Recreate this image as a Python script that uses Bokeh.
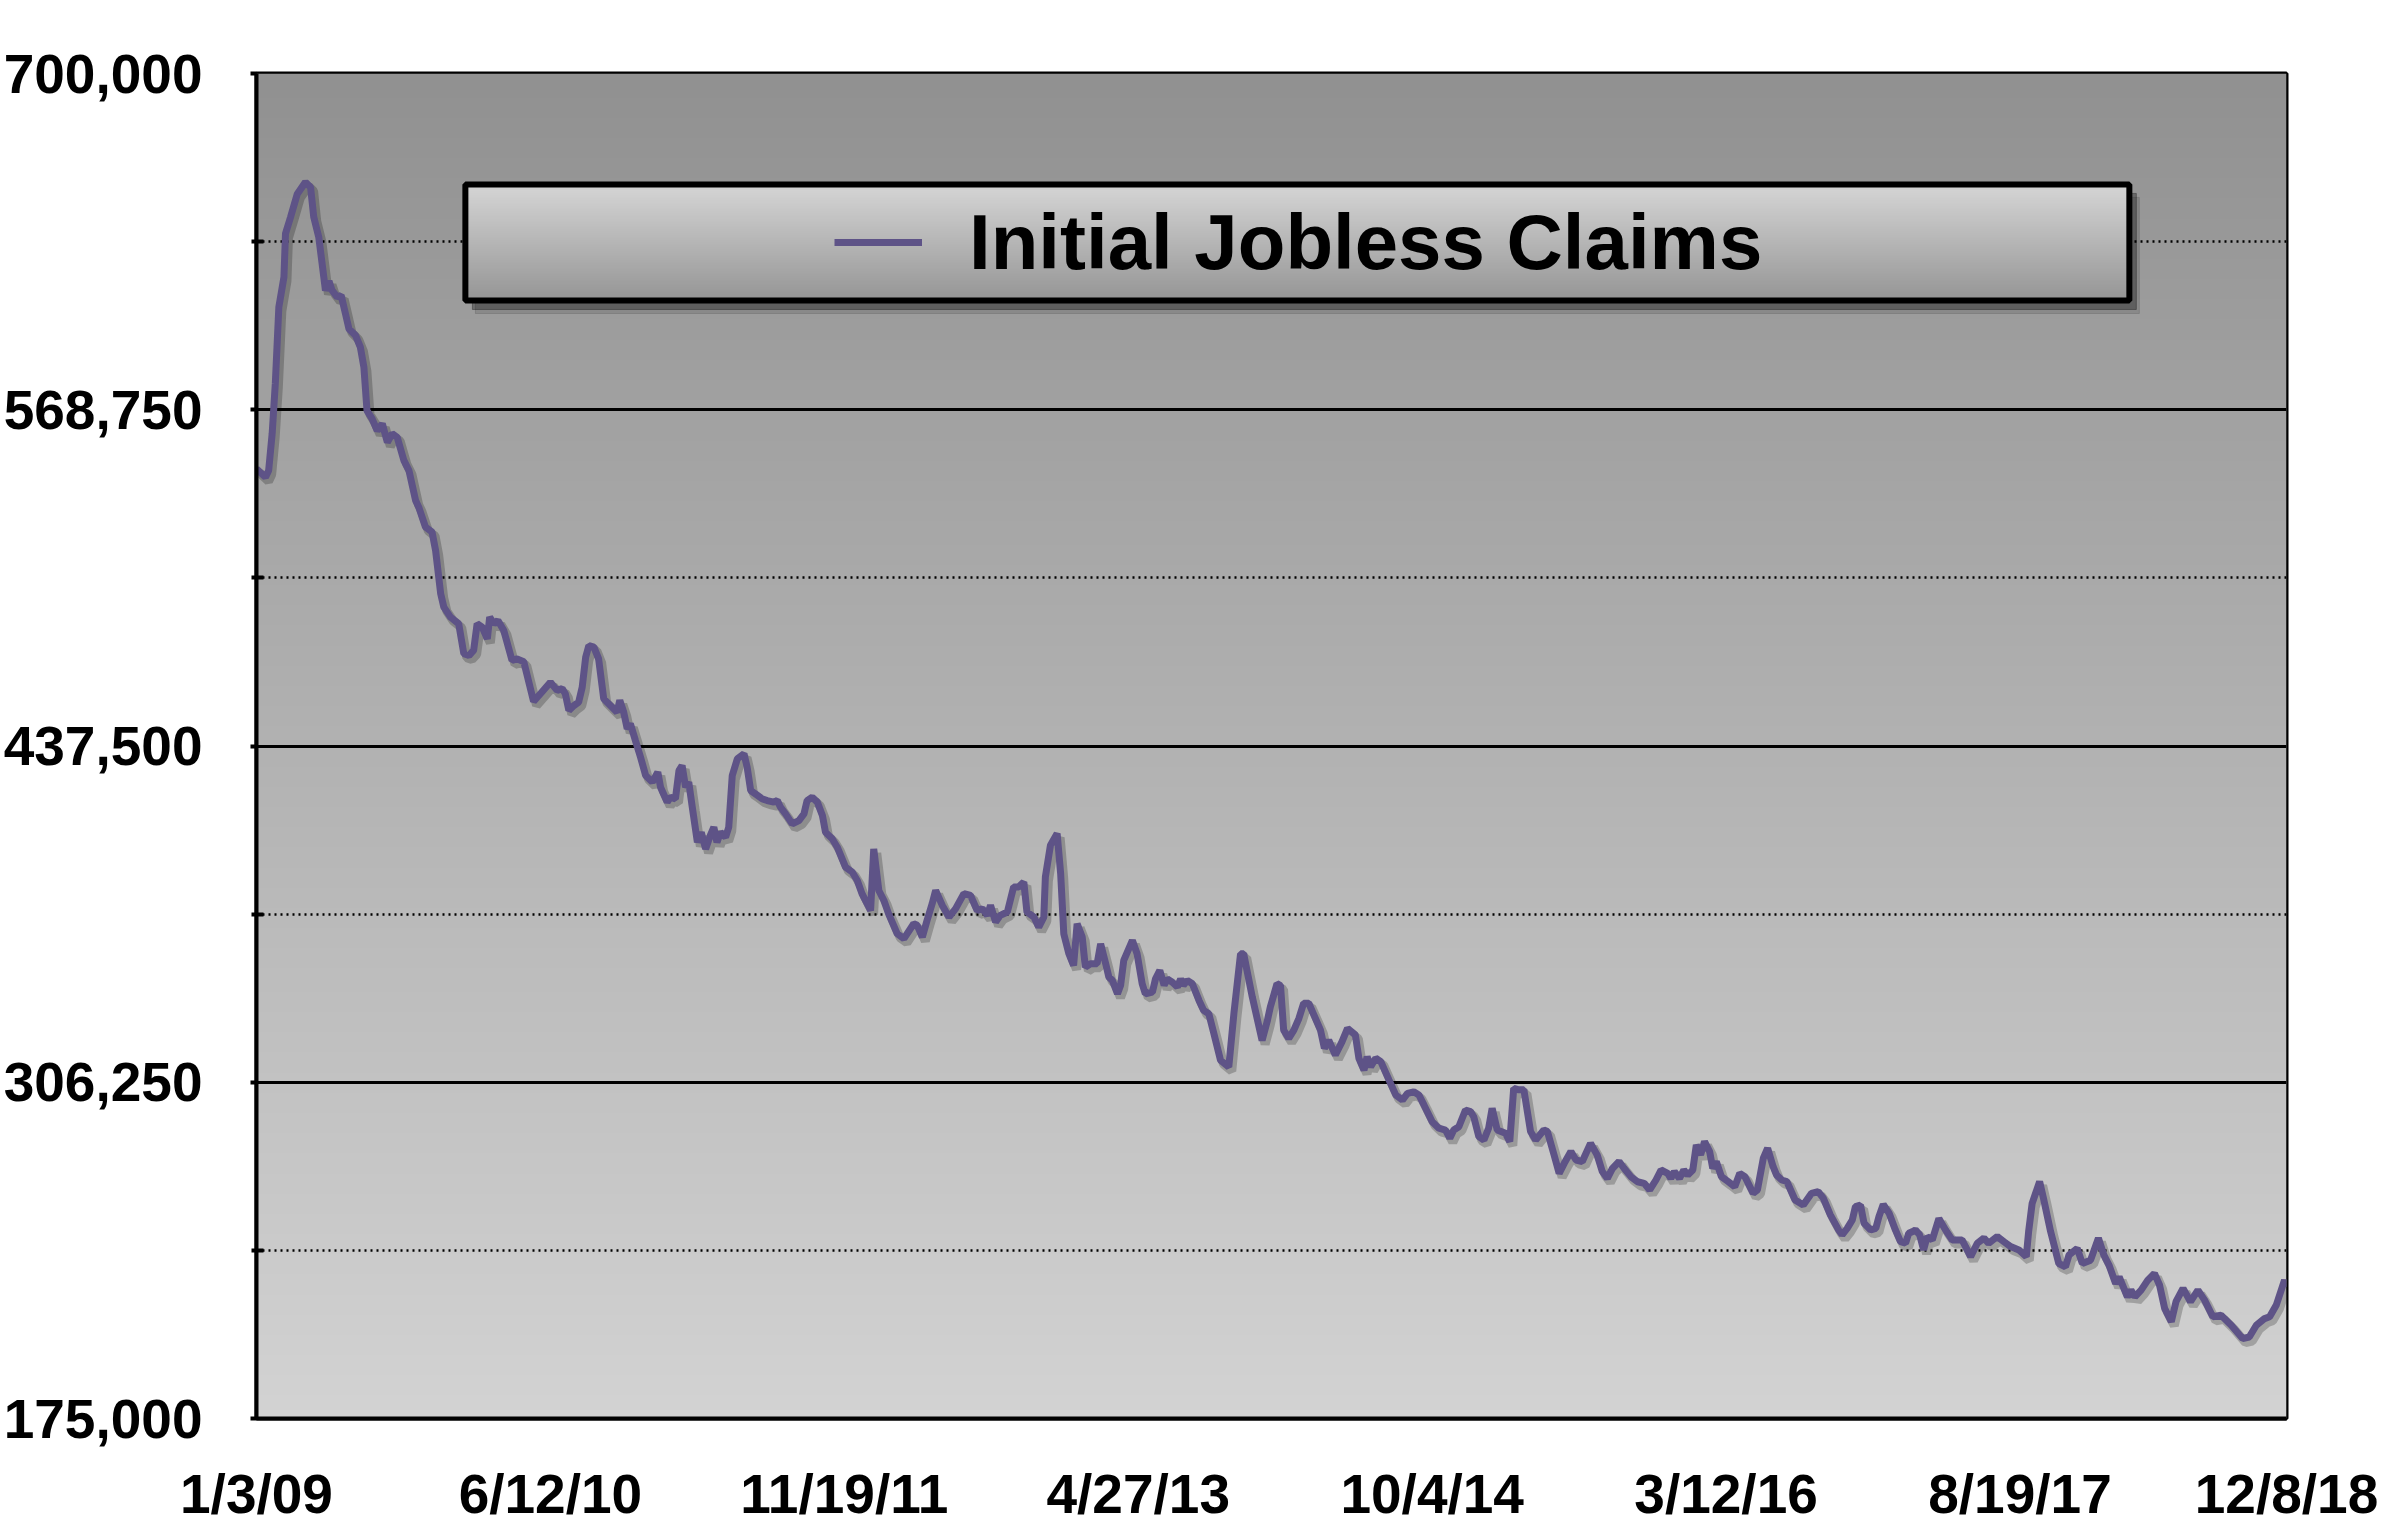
import numpy as np
from bokeh.plotting import figure
from bokeh.models import (Range1d, FixedTicker, NumeralTickFormatter, Legend,
                          LegendItem, BoxAnnotation)
from bokeh.embed import file_html
from bokeh.resources import INLINE

# ---------------- data ----------------
series_name = "Initial Jobless Claims"

# weeks since 1/3/09
weeks = [0, 2.3, 3.1, 4.0, 4.8, 5.7, 7.0, 7.4, 8.7, 10.4, 12.5, 13.8, 14.6, 15.9, 17.6, 18.5, 19.3,
         20.6, 21.6, 22.7, 23.6, 25.3, 26.5, 27.4, 28.2, 29.5, 30.8, 32.1, 33.4, 34.6, 35.9, 37.6,
         38.9, 40.6, 41.4, 43.1, 44.8, 45.7, 47.0, 47.8, 49.5, 51.6, 52.9, 54.2, 55.4, 56.3, 57.6,
         58.9, 59.5, 60.6, 61.6, 63.1, 65.2, 66.5, 68.2, 70.7, 72.5, 75.0, 76.7, 78.0, 78.8, 79.7,
         81.0, 82.2, 83.1, 84.0, 84.8, 86.1, 87.3, 88.6, 90.3, 92.0, 92.7, 93.7, 94.6, 95.4, 96.7,
         98.0, 99.3, 101.0, 102.4, 103.1, 104.8, 105.6, 106.9, 107.8, 108.6, 109.5, 110.3, 111.2,
         112.5, 113.5, 114.6, 115.8, 116.7, 117.5, 118.4, 119.7, 120.5, 121.4, 122.7, 124.4, 125.2,
         126.1, 127.3, 129.0, 130.3, 132.0, 132.9, 133.7, 135.0, 136.7, 138.4, 139.7, 140.5, 141.8,
         143.1, 144.4, 145.2, 146.9, 148.2, 150.3, 152.0, 153.3, 154.5, 156.7, 157.5, 158.8, 160.1,
         161.3, 162.6, 163.5, 165.2, 167.7, 168.6, 169.9, 171.1, 172.4, 173.3, 175.0, 176.7, 178.4,
         180.5, 182.2, 183.9, 185.2, 186.5, 187.3, 188.6, 189.8, 191.6, 193.2, 194.5, 195.8, 196.6,
         198.4, 199.6, 200.9, 201.3, 202.6, 204.3, 205.2, 206.0, 207.3, 208.5, 209.4, 210.7, 211.5,
         212.8, 214.5, 215.4, 216.7, 217.5, 218.4, 219.7, 220.5, 221.3, 223.5, 224.7, 226.0, 226.8,
         228.6, 229.4, 230.5, 231.6, 232.4, 233.7, 235.0, 235.8, 236.5, 237.5, 238.8, 240.5, 241.7,
         243.0, 244.3, 246.0, 248.1, 249.4, 251.1, 251.9, 254.1, 256.6, 257.9, 258.7, 260.4, 261.3,
         262.1, 263.4, 264.7, 266.0, 267.2, 268.5, 270.2, 271.5, 272.5, 273.6, 275.3, 277.0, 278.4,
         280.4, 281.3, 282.6, 283.4, 284.3, 285.6, 286.9, 289.0, 290.7, 292.4, 293.7, 295.3, 296.6,
         297.9, 300.0, 301.7, 303.4, 304.5, 305.5, 306.8, 308.5, 309.8, 310.6, 311.9, 313.2, 314.4,
         315.3, 316.6, 318.7, 319.8, 320.8, 322.1, 323.4, 325.1, 326.4, 328.5, 329.4, 331.1, 332.4,
         333.7, 335.4, 336.7, 338.3, 340.4, 342.1, 343.4, 344.7, 346.0, 347.7, 349.0, 350.7, 352.4,
         354.1, 355.5, 357.1, 358.4, 360.1, 360.9, 361.8, 363.1, 364.2, 365.2, 366.5, 367.4, 368.5,
         369.5, 370.8, 371.6, 372.5, 373.8, 375.5, 377.2, 378.5, 379.8, 381.9, 383.0, 384.5, 385.6,
         387.0, 387.9, 389.2, 390.5, 392.6, 394.7, 396.8, 398.5, 399.8, 401.6, 403.7, 404.6, 405.9,
         407.2, 408.0, 409.3, 410.2, 411.9, 413.2, 414.0, 415.1, 416.6, 418.2, 419.5, 420.8, 421.6,
         422.5, 423.3, 424.4, 425.4, 426.3, 427.6, 429.3, 431.0, 432.7, 435.2, 436.1, 437.4, 439.1,
         440.8, 442.0, 444.2, 445.9, 447.6, 449.7, 451.6, 452.2, 453.1, 455.0, 456.0, 457.8, 459.9,
         461.6, 462.5, 464.6, 465.9, 468.0, 470.0, 471.4, 472.7, 474.4, 475.3, 477.4, 478.3, 479.3,
         480.9, 482.6, 484.3, 485.6, 486.9, 488.6, 489.8, 491.6, 493.5, 495.4, 497.1, 499.2, 501.3,
         503.9, 506.8, 508.5, 510.3, 512.4, 513.7, 515.4, 517.5, 518.0]

claims = [545700, 542400, 545000, 559500, 579000, 608800, 620500, 637500, 644000, 653000, 657600,
          655600, 644000, 636000, 615300, 619000, 615300, 612700, 613400, 606200, 600300, 597700,
          593200, 585400, 568400, 565200, 560600, 563300, 556000, 559400, 558000, 549000, 545000,
          533300, 530700, 523000, 521000, 513800, 496900, 491700, 487800, 485200, 473500, 472800,
          474800, 485200, 483900, 479300, 487800, 485200, 486500, 482600, 470900, 471500, 470400,
          454900, 458000, 462400, 459200, 459900, 457900, 451400, 453300, 454600, 460400, 472200,
          476700, 476100, 471500, 455900, 453300, 450700, 455300, 450700, 444200, 446200, 439600,
          433100, 426000, 423400, 427300, 421400, 415600, 417500, 416900, 427900, 429900, 421400,
          423400, 413600, 399900, 403800, 397300, 402600, 405800, 399900, 403800, 401900, 405800,
          426000, 432500, 434500, 429200, 420100, 418800, 416900, 416200, 415600, 416200, 413600,
          411000, 407100, 408400, 411000, 416200, 417500, 415600, 410400, 403800, 401300, 398000,
          390200, 388300, 385000, 379900, 373300, 397300, 381100, 377200, 372000, 367400, 364200,
          362300, 368100, 367500, 362900, 369400, 375900, 381100, 375300, 370700, 374000, 379900,
          379200, 373300, 374000, 371400, 375300, 368800, 371400, 372700, 382500, 382500, 384400,
          372700, 370700, 366800, 370700, 386400, 398800, 403300, 387700, 364200, 356400, 351800,
          368100, 362900, 351200, 352500, 352500, 360300, 352500, 347300, 346000, 340800, 344100,
          353800, 361600, 356400, 344700, 340800, 341400, 346600, 349900, 344100, 346600, 345300,
          343400, 346600, 344100, 346000, 344700, 338200, 334300, 333000, 325200, 314800, 312200,
          333000, 356400, 356400, 339500, 322600, 330000, 335600, 344700, 344000, 326600, 323400,
          326600, 331200, 337100, 337100, 331200, 326600, 319500, 322700, 316900, 322100, 327300,
          324700, 315600, 311000, 316200, 312300, 315600, 314300, 307100, 301300, 299300, 301900,
          302500, 301300, 297400, 290800, 288300, 287600, 284400, 287600, 288900, 295400, 294800,
          292800, 285000, 283700, 288300, 296100, 287600, 286300, 283100, 303900, 303300, 303300,
          287000, 283700, 287600, 287000, 277900, 270700, 274600, 279200, 275900, 275300, 282400,
          277900, 271400, 268700, 272600, 275300, 272600, 269400, 267400, 266800, 264200, 268100,
          272000, 270700, 268700, 271400, 268700, 272000, 270000, 272000, 281800, 277900, 283100,
          279200, 272600, 275300, 269400, 267500, 265500, 270700, 269400, 262900, 264200, 276600,
          280500, 273300, 270000, 268100, 267500, 260300, 258300, 262900, 263600, 261000, 254500,
          248600, 246700, 249200, 252500, 257700, 258300, 251200, 248600, 249200, 253800, 258600,
          255100, 248600, 244000, 243400, 247300, 247900, 248600, 246700, 240800, 246000, 244700,
          253100, 248600, 244700, 244700, 242100, 238200, 243400, 245400, 243400, 246000, 244000,
          242100, 240800, 238200, 248000, 259000, 267500, 260900, 248000, 235500, 234200, 238800,
          241400, 235500, 236800, 245400, 238800, 234900, 227700, 230300, 222500, 225100, 222500,
          225100, 229000, 231600, 227100, 218000, 212800, 220600, 225800, 220600, 225100, 221200,
          214700, 215300, 211400, 206200, 206800, 211400, 214000, 214700, 219300, 229000, 226400]

tick_weeks = [0, 75, 150, 225, 300, 375, 450, 518]
tick_labels = ["1/3/09", "6/12/10", "11/19/11", "4/27/13", "10/4/14", "3/12/16", "8/19/17", "12/8/18"]
y_major = [175000, 306250, 437500, 568750, 700000]
y_minor = [240625, 371875, 503125, 634375]

# ---------------- layout / style constants ----------------
X0, X1 = 0, 518
Y0, Y1 = 175000, 700000
FRAME_W, FRAME_H = 2030, 1345
FONT = "Liberation Sans"
LINE_COLOR = "#5e5387"
px_x = (X1 - X0) / FRAME_W
px_y = (Y1 - Y0) / FRAME_H

p = figure(frame_width=FRAME_W, frame_height=FRAME_H,
           x_range=Range1d(X0, X1), y_range=Range1d(Y0, Y1),
           output_backend="svg", toolbar_location=None,
           min_border_left=256, min_border_top=73, min_border_right=98, min_border_bottom=10,
           border_fill_color="white", background_fill_color="#b0b0b0")

# shifted ranges used to draw drop shadows a few pixels down-right
def shifted(name, dx, dy):
    p.extra_x_ranges[name] = Range1d(X0 - dx * px_x, X1 - dx * px_x)
    p.extra_y_ranges[name] = Range1d(Y0 + dy * px_y, Y1 + dy * px_y)

shifted("lshadow", 3, 4)
shifted("bshadow", 7, 9)
shifted("bshadow2", 10, 13)

# background gradient of the plot area
N = 400
grad = np.empty((N, 1), dtype=np.uint32)
v = grad.view(dtype=np.uint8).reshape((N, 1, 4))
g = np.linspace(211, 145, N).astype(np.uint8)
v[:, 0, 0] = g; v[:, 0, 1] = g; v[:, 0, 2] = g; v[:, 0, 3] = 255
p.image_rgba(image=[grad], x=X0, y=Y0, dw=X1 - X0, dh=Y1 - Y0, level="image")

# grid
ticker = FixedTicker(ticks=y_major, minor_ticks=y_minor)
p.yaxis.ticker = ticker
p.ygrid.ticker = ticker
p.ygrid.grid_line_color = "black"
p.ygrid.grid_line_width = 3
p.ygrid.minor_grid_line_color = "black"
p.ygrid.minor_grid_line_width = 2.5
p.ygrid.minor_grid_line_dash = "2 4"
p.xgrid.grid_line_color = None

# legend box (drawn as decoration)
BOX_L, BOX_R, BOX_B, BOX_T = 53.3, 477.9, 611400, 656700
p.quad(left=BOX_L, right=BOX_R, bottom=BOX_B, top=BOX_T, color="black", alpha=0.12,
       x_range_name="bshadow2", y_range_name="bshadow2")
p.quad(left=BOX_L, right=BOX_R, bottom=BOX_B, top=BOX_T, color="black", alpha=0.3,
       x_range_name="bshadow", y_range_name="bshadow")
M = 200
bgrad = np.empty((M, 1), dtype=np.uint32)
bv = bgrad.view(dtype=np.uint8).reshape((M, 1, 4))
bg = np.linspace(150, 214, M).astype(np.uint8)
bv[:, 0, 0] = bg; bv[:, 0, 1] = bg; bv[:, 0, 2] = bg; bv[:, 0, 3] = 255
p.image_rgba(image=[bgrad], x=BOX_L, y=BOX_B, dw=BOX_R - BOX_L, dh=BOX_T - BOX_B)
p.add_layout(BoxAnnotation(left=BOX_L, right=BOX_R, bottom=BOX_B, top=BOX_T,
                           fill_alpha=0, line_color="black", line_alpha=1.0, line_width=6))

# data line + soft shadow
p.line(weeks, claims, line_color="black", line_alpha=0.22, line_width=9,
       x_range_name="lshadow", y_range_name="lshadow")
r = p.line(weeks, claims, line_color=LINE_COLOR, line_width=7)

legend = Legend(items=[LegendItem(label=series_name, renderers=[r])],
                location=(578, 1121), padding=0, margin=0, spacing=0,
                glyph_width=88, glyph_height=110, label_height=110, label_standoff=47,
                label_text_font=FONT, label_text_font_size="78px", label_text_font_style="bold",
                label_text_color="black", background_fill_alpha=0, border_line_alpha=0)
p.add_layout(legend)

# axes
for ax in (p.xaxis[0], p.yaxis[0]):
    ax.axis_line_color = "black"
    ax.axis_line_width = 4
    ax.major_label_text_font = FONT
    ax.major_label_text_font_size = "55px"
    ax.major_label_text_font_style = "bold"
    ax.major_label_text_color = "black"

p.yaxis.formatter = NumeralTickFormatter(format="0,0")
p.yaxis.major_tick_out = 6
p.yaxis.major_tick_in = 0
p.yaxis.major_tick_line_width = 4
p.yaxis.minor_tick_out = 5
p.yaxis.minor_tick_in = 7
p.yaxis.minor_tick_line_width = 4
p.yaxis.major_label_standoff = 48

p.xaxis.ticker = FixedTicker(ticks=tick_weeks)
p.xaxis.major_label_overrides = {t: l for t, l in zip(tick_weeks, tick_labels)}
p.xaxis.major_tick_line_color = None
p.xaxis.minor_tick_line_color = None
p.xaxis.major_tick_out = 0
p.xaxis.major_label_standoff = 44

p.outline_line_color = "black"
p.outline_line_width = 4

open("out.html", "w").write(file_html(p, INLINE))
